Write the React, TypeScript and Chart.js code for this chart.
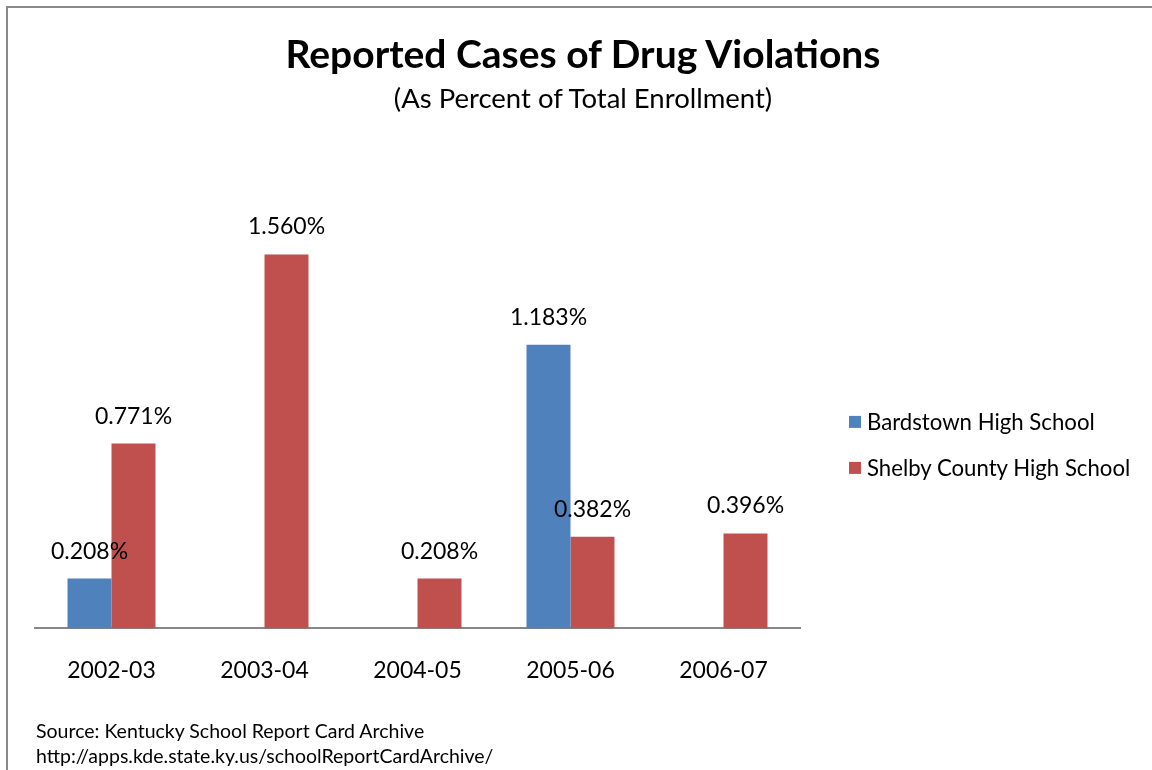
import React, { useEffect, useRef } from "react";
import { Chart, registerables } from "chart.js";

Chart.register(...registerables);

const categories = ["2002-03", "2003-04", "2004-05", "2005-06", "2006-07"];
const seriesNames = ["Bardstown High School", "Shelby County High School"];
const bardstown: (number | null)[] = [0.208, null, null, 1.183, null];
const shelby: (number | null)[] = [0.771, 1.56, 0.208, 0.382, 0.396];
const seriesColors = ["#4F81BD", "#C0504D"];
const titleText = "Reported Cases of Drug Violations";
const subtitleText = "(As Percent of Total Enrollment)";
const sourceLines = [
  "Source: Kentucky School Report Card Archive",
  "http://apps.kde.state.ky.us/schoolReportCardArchive/",
];

const FONT = "Lato, 'Open Sans', sans-serif";

const valueLabels = {
  id: "valueLabels",
  afterDatasetsDraw(chart: any) {
    const ctx = chart.ctx;
    ctx.save();
    ctx.font = `23px ${FONT}`;
    ctx.fillStyle = "#000";
    ctx.textAlign = "center";
    ctx.textBaseline = "alphabetic";
    chart.data.datasets.forEach((ds: any, di: number) => {
      const meta = chart.getDatasetMeta(di);
      meta.data.forEach((bar: any, i: number) => {
        const v = ds.data[i];
        if (v === null || v === undefined) return;
        ctx.fillText(v.toFixed(3) + "%", bar.x, bar.y - 20);
      });
    });
    ctx.restore();
  },
};

export default function App() {
  const canvasRef = useRef<HTMLCanvasElement | null>(null);

  useEffect(() => {
    if (!canvasRef.current) return;
    const chart = new Chart(canvasRef.current, {
      type: "bar",
      data: {
        labels: categories,
        datasets: [
          {
            label: seriesNames[0],
            data: bardstown,
            backgroundColor: seriesColors[0],
            barPercentage: 1,
            categoryPercentage: 0.575,
          },
          {
            label: seriesNames[1],
            data: shelby,
            backgroundColor: seriesColors[1],
            barPercentage: 1,
            categoryPercentage: 0.575,
          },
        ],
      },
      options: {
        animation: false,
        responsive: true,
        maintainAspectRatio: false,
        layout: { padding: { left: 35, right: 352, top: 149, bottom: 58 } },
        plugins: {
          legend: { display: false },
          title: { display: false },
          tooltip: { enabled: false },
        },
        scales: {
          x: {
            grid: { display: false, drawTicks: false },
            border: { display: true, color: "#868686", width: 2 },
            ticks: {
              color: "#000",
              font: { family: FONT, size: 23 },
              padding: 28,
              maxRotation: 0,
            },
          },
          y: {
            display: false,
            min: 0,
            max: 2,
          },
        },
      },
      plugins: [valueLabels],
    });
    return () => chart.destroy();
  }, []);

  return (
    <div
      style={{
        position: "absolute",
        left: 0,
        top: 0,
        width: 1152,
        height: 770,
        background: "#fff",
        overflow: "hidden",
        fontFamily: FONT,
        color: "#000",
      }}
    >
      <div
        style={{
          position: "absolute",
          left: 6,
          top: 6,
          right: -10,
          bottom: -10,
          borderLeft: "2px solid #8a8a8a",
          borderTop: "2px solid #8a8a8a",
        }}
      />
      <div style={{ position: "absolute", left: 0, top: 0, width: 1152, height: 770 }}>
        <canvas ref={canvasRef} />
      </div>
      <div
        style={{
          position: "absolute",
          left: 583,
          top: 53,
          transform: "translate(-50%, -50%)",
          whiteSpace: "nowrap",
          fontSize: 39,
          fontWeight: 700,
          lineHeight: 1,
        }}
      >
        {titleText}
      </div>
      <div
        style={{
          position: "absolute",
          left: 583,
          top: 98,
          transform: "translate(-50%, -50%)",
          whiteSpace: "nowrap",
          fontSize: 27.5,
          lineHeight: 1,
        }}
      >
        {subtitleText}
      </div>
      {seriesNames.map((name, i) => (
        <div
          key={name}
          style={{
            position: "absolute",
            left: 849,
            top: 422 + i * 46,
            transform: "translateY(-50%)",
            display: "flex",
            alignItems: "center",
            whiteSpace: "nowrap",
            fontSize: 22.2,
            lineHeight: 1,
          }}
        >
          <span
            style={{
              display: "inline-block",
              width: 12,
              height: 12,
              background: seriesColors[i],
              marginRight: 6,
            }}
          />
          <span>{name}</span>
        </div>
      ))}
      {sourceLines.map((line, i) => (
        <div
          key={line}
          style={{
            position: "absolute",
            left: 36,
            top: 731 + i * 25,
            transform: "translateY(-50%)",
            whiteSpace: "nowrap",
            fontSize: 19.5,
            lineHeight: 1,
          }}
        >
          {line}
        </div>
      ))}
    </div>
  );
}
